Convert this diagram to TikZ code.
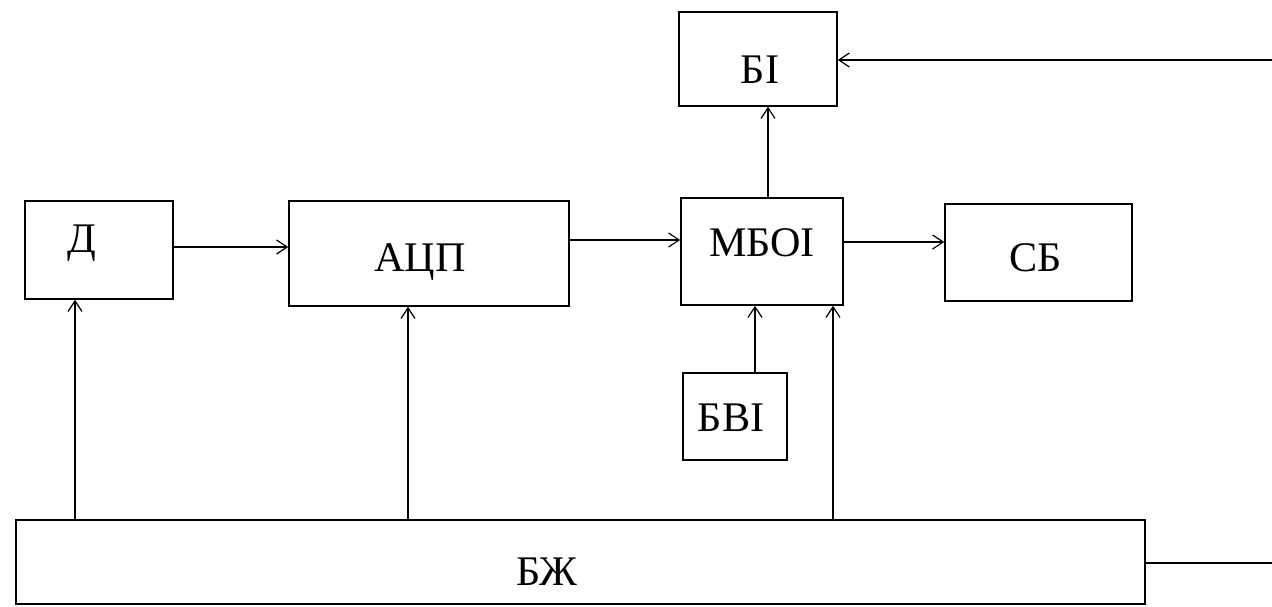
\documentclass[tikz,border=0pt]{standalone}
\usepackage{fontspec}
\setmainfont{Liberation Serif}
\usetikzlibrary{arrows.meta}
\begin{document}
\begin{tikzpicture}[x=0.02cm,y=-0.02cm,
  box/.style={draw, line width=0.9pt, inner sep=0pt},
  lbl/.style={inner sep=0pt, font=\fontsize{24}{28}\selectfont},
  conn/.style={line width=0.9pt},
  arr/.style={conn, -{Straight Barb[length=6pt,width=8pt,line width=0.7pt]}}]
\useasboundingbox (0,0) rectangle (1272,606);
% boxes
\node[box, minimum width=3.16cm, minimum height=1.88cm] (BI) at (758,59) {};
\node[box, minimum width=2.96cm, minimum height=1.96cm] (D) at (99,250) {};
\node[box, minimum width=5.6cm, minimum height=2.1cm] (ACP) at (429,253.5) {};
\node[box, minimum width=3.24cm, minimum height=2.14cm] (MBOI) at (762,251.5) {};
\node[box, minimum width=3.74cm, minimum height=1.94cm] (SB) at (1038.5,252.5) {};
\node[box, minimum width=2.08cm, minimum height=1.74cm] (BVI) at (735,416.5) {};
\node[box, minimum width=22.58cm, minimum height=1.68cm] (BZh) at (580.5,562) {};
% labels
\node[lbl] (tBI) at (760,70) {БІ};
\node[lbl] (tD) at (82,243) {Д};
\node[lbl] (tACP) at (420,262) {АЦП};
\node[lbl] (tMBOI) at (762,243) {МБОІ};
\node[lbl] (tSB) at (1036,258) {СБ};
\node[lbl] (tBVI) at (731,418) {БВІ};
\node[lbl] (tBZh) at (547,572) {БЖ};
% free ends
\coordinate (r1) at (1272,60);
\coordinate (r2) at (1272,563);
% connectors
\draw[arr] (D.east |- 0,247) -- (ACP.west |- 0,247);
\draw[arr] (ACP.east |- 0,240) -- (MBOI.west |- 0,240);
\draw[arr] (MBOI.east |- 0,242) -- (SB.west |- 0,242);
\draw[arr] (MBOI.north -| 768,0) -- (BI.south -| 768,0);
\draw[arr] (BVI.north -| 755,0) -- (MBOI.south -| 755,0);
\draw[arr] (BZh.north -| 75,0) -- (D.south -| 75,0);
\draw[arr] (BZh.north -| 408,0) -- (ACP.south -| 408,0);
\draw[arr] (BZh.north -| 833,0) -- (MBOI.south -| 833,0);
\draw[arr] (r1) -- (BI.east |- r1);
\draw[conn] (BZh.east |- r2) -- (r2);
\end{tikzpicture}
\end{document}
